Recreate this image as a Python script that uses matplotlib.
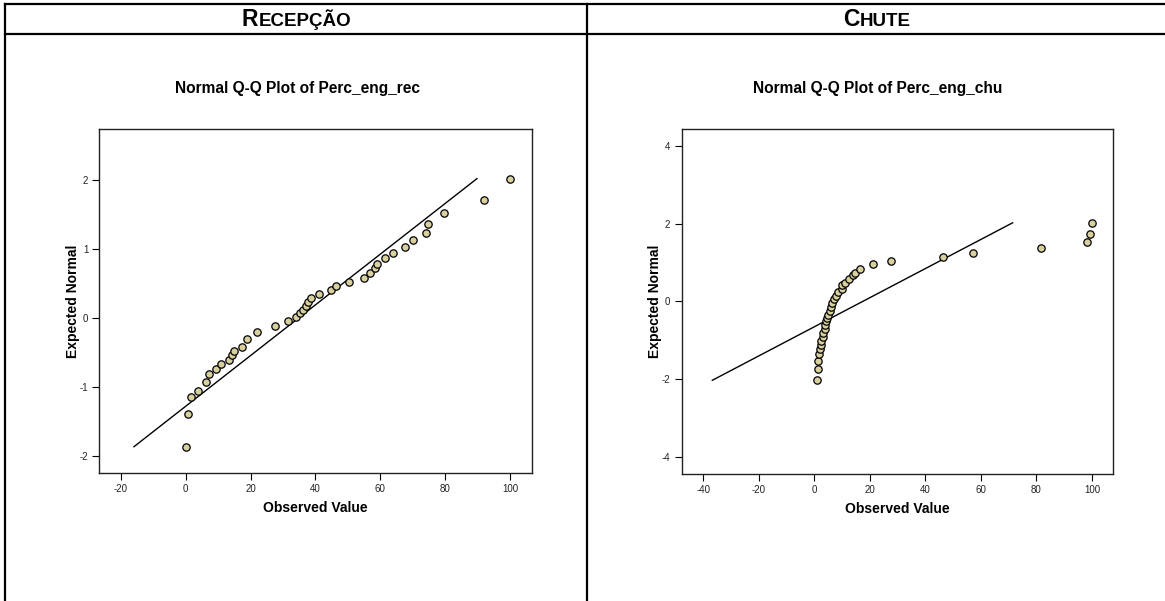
import matplotlib
matplotlib.use("Agg")
import numpy as np
import matplotlib.pyplot as plt
from matplotlib.lines import Line2D

plt.rcParams["font.family"] = ["Liberation Sans", "DejaVu Sans"]
plt.rcParams["axes.unicode_minus"] = False

# Perc_eng_rec: observed values and their expected normal scores
rec_observed = [0.0, 0.7, 1.5, 3.9, 6.3, 7.1, 9.4, 11.0, 13.3, 14.2, 15.0, 17.3,
                18.8, 22.1, 27.5, 31.4, 33.9, 35.3, 36.1, 37.0, 37.8, 38.5, 41.0,
                44.8, 46.4, 50.4, 55.0, 56.7, 58.2, 59.0, 61.3, 63.8, 67.7, 70.0,
                74.0, 74.8, 79.5, 92.0, 100.0]
rec_expected = [-1.865, -1.387, -1.15, -1.053, -0.923, -0.807, -0.739, -0.667,
                -0.604, -0.541, -0.483, -0.425, -0.309, -0.198, -0.116, -0.039,
                0.019, 0.072, 0.121, 0.179, 0.232, 0.290, 0.348, 0.406, 0.464,
                0.522, 0.585, 0.652, 0.72, 0.787, 0.865, 0.947, 1.034, 1.13,
                1.237, 1.367, 1.517, 1.715, 2.02]
REC_MEAN = 34.8
REC_SD = 27.2

# Perc_eng_chu: observed values and their expected normal scores
chu_observed = [0.97, 1.2, 1.3, 1.8, 2.05, 2.3, 2.5, 3.0, 3.3, 3.7, 4.0, 4.1,
                4.5, 5.0, 5.7, 5.9, 6.5, 7.1, 7.7, 8.4, 9.9, 10.1, 11.1, 12.4,
                14.1, 14.7, 16.4, 21.0, 27.6, 46.5, 57.3, 81.7, 98.3, 99.3, 100.0]
chu_expected = [-2.03, -1.73, -1.53, -1.35, -1.23, -1.11, -1.01, -0.91, -0.81,
                -0.70, -0.61, -0.51, -0.44, -0.35, -0.26, -0.15, -0.04, 0.05,
                0.13, 0.23, 0.31, 0.41, 0.48, 0.58, 0.67, 0.72, 0.84, 0.95, 1.04,
                1.13, 1.24, 1.37, 1.52, 1.72, 2.02]
CHU_MEAN = 17.5
CHU_SD = 26.7

FIG_W, FIG_H = 1165, 601
POINT_COLOR = "#d8d19d"


def qq_panel(fig, rect, observed, expected, mean, sd, title, title_x,
             xlim, ylim, xticks, yticks):
    """
    Draw one normal Q-Q panel with its reference line.
    """
    ax = fig.add_axes(rect)

    # reference line spans the range of expected scores
    y_line = np.array([min(expected), max(expected)])
    x_line = mean + sd * y_line
    ax.plot(x_line, y_line, color="black", linewidth=1.0, zorder=2)

    ax.scatter(observed, expected, s=28, facecolor=POINT_COLOR,
               edgecolor="black", linewidth=0.9, zorder=3)

    ax.set_xlim(*xlim)
    ax.set_ylim(*ylim)
    ax.set_xticks(xticks)
    ax.set_yticks(yticks)
    ax.tick_params(direction="out", length=5, width=0.8, labelsize=7,
                   labelcolor="#222222", pad=3)
    for side in ["left", "bottom", "right", "top"]:
        ax.spines[side].set_linewidth(1.0)
        ax.spines[side].set_color("#222222")

    ax.set_xlabel("Observed Value", fontsize=10, fontweight="bold", labelpad=5)
    ax.set_ylabel("Expected Normal", fontsize=10, fontweight="bold", labelpad=-0.5)

    fig.text(title_x, 1 - 88 / FIG_H, title, ha="center", va="center",
             fontsize=11.2, fontweight="bold")
    return ax


def small_caps(fig, x_px, baseline_px, word, big=16.5, small=13.5):
    """
    Write a bold word in small caps, centred on x_px.
    """
    y = 1 - baseline_px / FIG_H
    first = fig.text(0, y, word[0], fontsize=big, fontweight="bold",
                     va="baseline", ha="left")
    rest = fig.text(0, y, word[1:], fontsize=small, fontweight="bold",
                    va="baseline", ha="left")
    renderer = fig.canvas.get_renderer()
    w1 = first.get_window_extent(renderer).width
    w2 = rest.get_window_extent(renderer).width
    x0 = x_px - (w1 + w2) / 2
    first.set_x(x0 / FIG_W)
    rest.set_x((x0 + w1 + 0.5) / FIG_W)


def draw_table(fig):
    """
    Draw the table frame around both panels.
    """
    def hline(y_px):
        y = 1 - y_px / FIG_H
        fig.add_artist(Line2D([5 / FIG_W, 1], [y, y], color="black",
                              linewidth=1.6, transform=fig.transFigure))

    def vline(x_px):
        x = x_px / FIG_W
        fig.add_artist(Line2D([x, x], [0, 1 - 4 / FIG_H], color="black",
                              linewidth=1.6, transform=fig.transFigure))

    hline(4)
    hline(33.7)
    vline(5)
    vline(586.7)


fig = plt.figure(figsize=(FIG_W / 100, FIG_H / 100), dpi=100)

draw_table(fig)
small_caps(fig, 296, 26, "RECEPÇÃO")
small_caps(fig, 877, 26, "CHUTE")

qq_panel(fig, [99.3 / FIG_W, 1 - 473 / FIG_H, 432.4 / FIG_W, 344.3 / FIG_H],
         rec_observed, rec_expected, REC_MEAN, REC_SD,
         "Normal Q-Q Plot of Perc_eng_rec", 297.5 / FIG_W,
         (-26.6, 106.6), (-2.246, 2.743),
         [-20, 0, 20, 40, 60, 80, 100], [-2, -1, 0, 1, 2])

qq_panel(fig, [681.5 / FIG_W, 1 - 474 / FIG_H, 431 / FIG_W, 345.3 / FIG_H],
         chu_observed, chu_expected, CHU_MEAN, CHU_SD,
         "Normal Q-Q Plot of Perc_eng_chu", 878 / FIG_W,
         (-47.8, 107.4), (-4.44, 4.44),
         [-40, -20, 0, 20, 40, 60, 80, 100], [-4, -2, 0, 2, 4])

plt.savefig("out.png", dpi=100)
